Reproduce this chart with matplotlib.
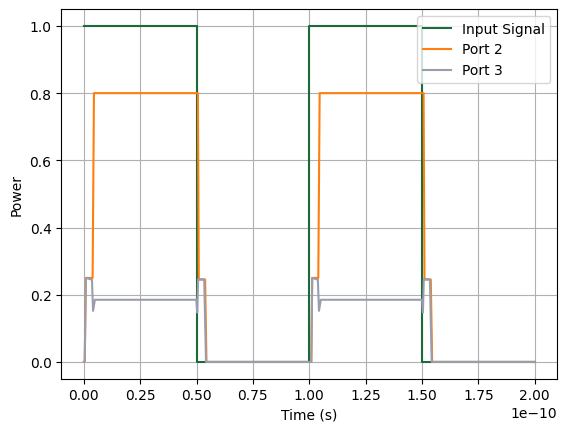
import numpy as np
import matplotlib.pyplot as plt

# breakpoints, time in ps
t_in = [0, 50, 50, 100, 100, 150, 150, 200]
p_in = [1, 1, 0, 0, 1, 1, 0, 0]

t_p2 = [0, 0.4, 0.9, 3.9, 4.5, 50.6, 51.0, 53.8, 54.4, 100.5, 100.9, 101.3,
        104.0, 104.6, 150.7, 151.1, 153.9, 154.5, 200]
p_p2 = [0, 0, 0.25, 0.25, 0.8, 0.8, 0.245, 0.245, 0, 0, 0, 0.25,
        0.25, 0.8, 0.8, 0.245, 0.245, 0, 0]

t_p3 = [0, 0.4, 0.9, 3.6, 4.1, 4.9, 49.9, 50.3, 50.7, 53.4, 54.2, 100.5, 100.9,
        101.3, 103.8, 104.3, 105.1, 150.0, 150.4, 150.8, 153.5, 154.3, 200]
p_p3 = [0, 0, 0.25, 0.245, 0.152, 0.185, 0.185, 0.147, 0.246, 0.246, 0, 0, 0,
        0.25, 0.245, 0.152, 0.185, 0.185, 0.147, 0.246, 0.246, 0, 0]

ps = 1e-12

fig, ax = plt.subplots(figsize=(6.4, 4.8))
ax.plot(np.array(t_in) * ps, p_in, color='#1b6b3a', label='Input Signal')
ax.plot(np.array(t_p2) * ps, p_p2, color='#ff7f0e', label='Port 2')
ax.plot(np.array(t_p3) * ps, p_p3, color='#9a9dae', label='Port 3')
ax.set_xlabel("Time (s)")
ax.set_ylabel("Power")
ax.grid(True)
ax.legend(loc='upper right')
plt.savefig('out.png', bbox_inches='tight')
